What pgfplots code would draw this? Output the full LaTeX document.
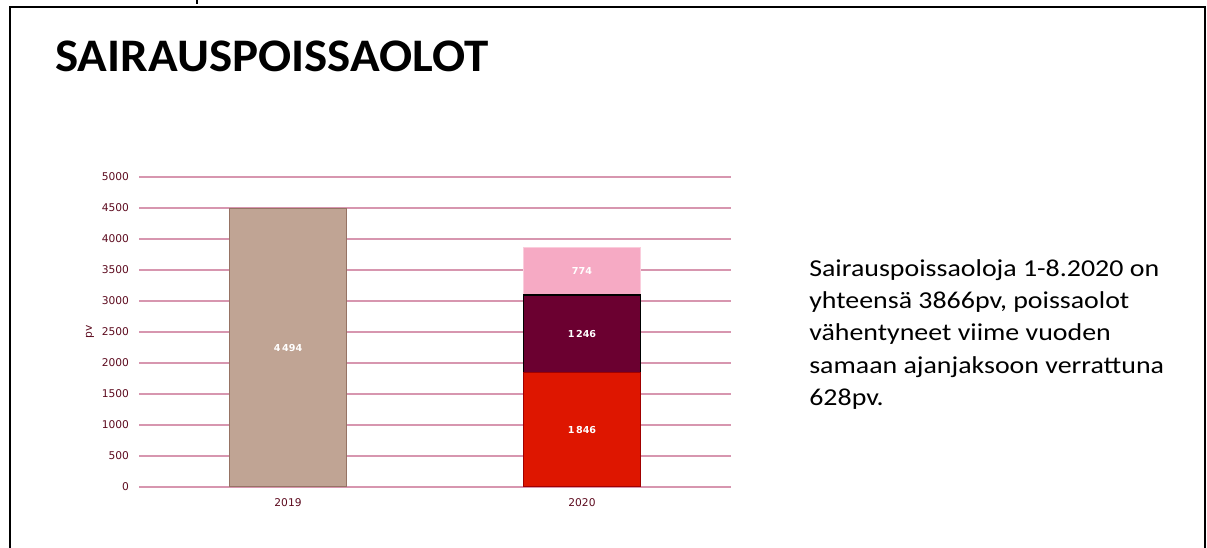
\documentclass[border=0pt]{standalone}
\usepackage{pgfplots}
\pgfplotsset{compat=1.18}
\usepackage{fontspec}
\setmainfont{Carlito}
\newfontfamily\tickfont{DejaVu Sans}
\definecolor{tickc}{RGB}{92,10,30}
\definecolor{gridc}{RGB}{215,150,175}
\definecolor{cA}{RGB}{192,164,148}
\definecolor{cAd}{RGB}{150,115,100}
\definecolor{cRed}{RGB}{222,22,0}
\definecolor{cRedd}{RGB}{160,0,0}
\definecolor{cMar}{RGB}{107,0,48}
\definecolor{cPink}{RGB}{246,170,196}
\definecolor{cPinkd}{RGB}{250,205,220}
\pgfplotsset{
  lblbase/.style={
    point meta=explicit symbolic,
    nodes near coords={\pgfmathprintnumber[assume math mode=true,1000 sep={\,}]{\pgfplotspointmeta}},
  },
  lbl/.style={lblbase,
    every node near coord/.style={anchor=center, text=white,
      font=\tickfont\bfseries\fontsize{7.2}{8}\selectfont,
      shift={(axis direction cs:0,-\pgfplotspointmeta/2)}},
  },
  lblS/.style={lblbase,
    every node near coord/.style={anchor=center, text=white,
      font=\tickfont\bfseries\fontsize{7.2}{8}\selectfont},
  },
  common/.style={
    at={(104.25pt,45.75pt)}, anchor=south west, scale only axis,
    width=444pt, height=232.5pt,
    xmin=-0.507, xmax=1.507, ymin=0, ymax=5000,
    bar width=87.75pt,
  }
}
\begin{document}
\begin{tikzpicture}[x=0.75pt,y=0.75pt]
\useasboundingbox (0,0) rectangle (1207,548);
\draw[line width=1.8pt] (10,-5) -- (10,541) -- (1205,541) -- (1205,-5);
\draw[line width=2pt] (197,548) -- (197,544);
\node[anchor=base west, inner sep=0pt, xscale=1.05, transform shape, font=\bfseries\fontsize{35}{40}\selectfont] at (55,476) {SAIRAUSPOISSAOLOT};
\node[anchor=north west, inner sep=0pt, align=left, xscale=1.15, transform shape, font=\fontsize{18.2}{24.3}\selectfont] at (809,289)
  {Sairauspoissaoloja 1-8.2020 on\\yhteensä 3866pv, poissaolot\\vähentyneet viime vuoden\\samaan ajanjaksoon verrattuna\\628pv.};
\begin{axis}[common,
  ybar, bar shift=0pt,
  xtick={0,1}, xticklabels={2019,2020},
  ytick={0,500,...,5000},
  axis line style={draw=none}, major tick length=0pt,
  ymajorgrids, grid style={color=gridc, line width=0.9pt},
  tick label style={font=\tickfont\fontsize{8}{9}\selectfont, text=tickc},
  xticklabel style={yshift=-5pt},
  yticklabel style={xshift=-4pt},
  /pgf/number format/assume math mode=true,
  /pgf/number format/1000 sep={},
  scaled y ticks=false,
  ylabel={pv}, ylabel style={font=\tickfont\fontsize{8}{9}\selectfont, text=tickc, yshift=-1pt},
]
\addplot[fill=cA, draw=cAd, line width=1pt, lbl] coordinates {(0,4494) [4494]};
\end{axis}
\begin{axis}[common, hide axis, ybar stacked]
\addplot[fill=cRed, draw=cRedd, line width=1pt, lblS] coordinates {(1,1846) [1846]};
\addplot[fill=cMar, draw=black, line width=1.2pt, lblS] coordinates {(1,1246) [1246]};
\addplot[fill=cPink, draw=cPinkd, line width=1pt, lblS] coordinates {(1,774) [774]};
\end{axis}
\end{tikzpicture}
\end{document}
